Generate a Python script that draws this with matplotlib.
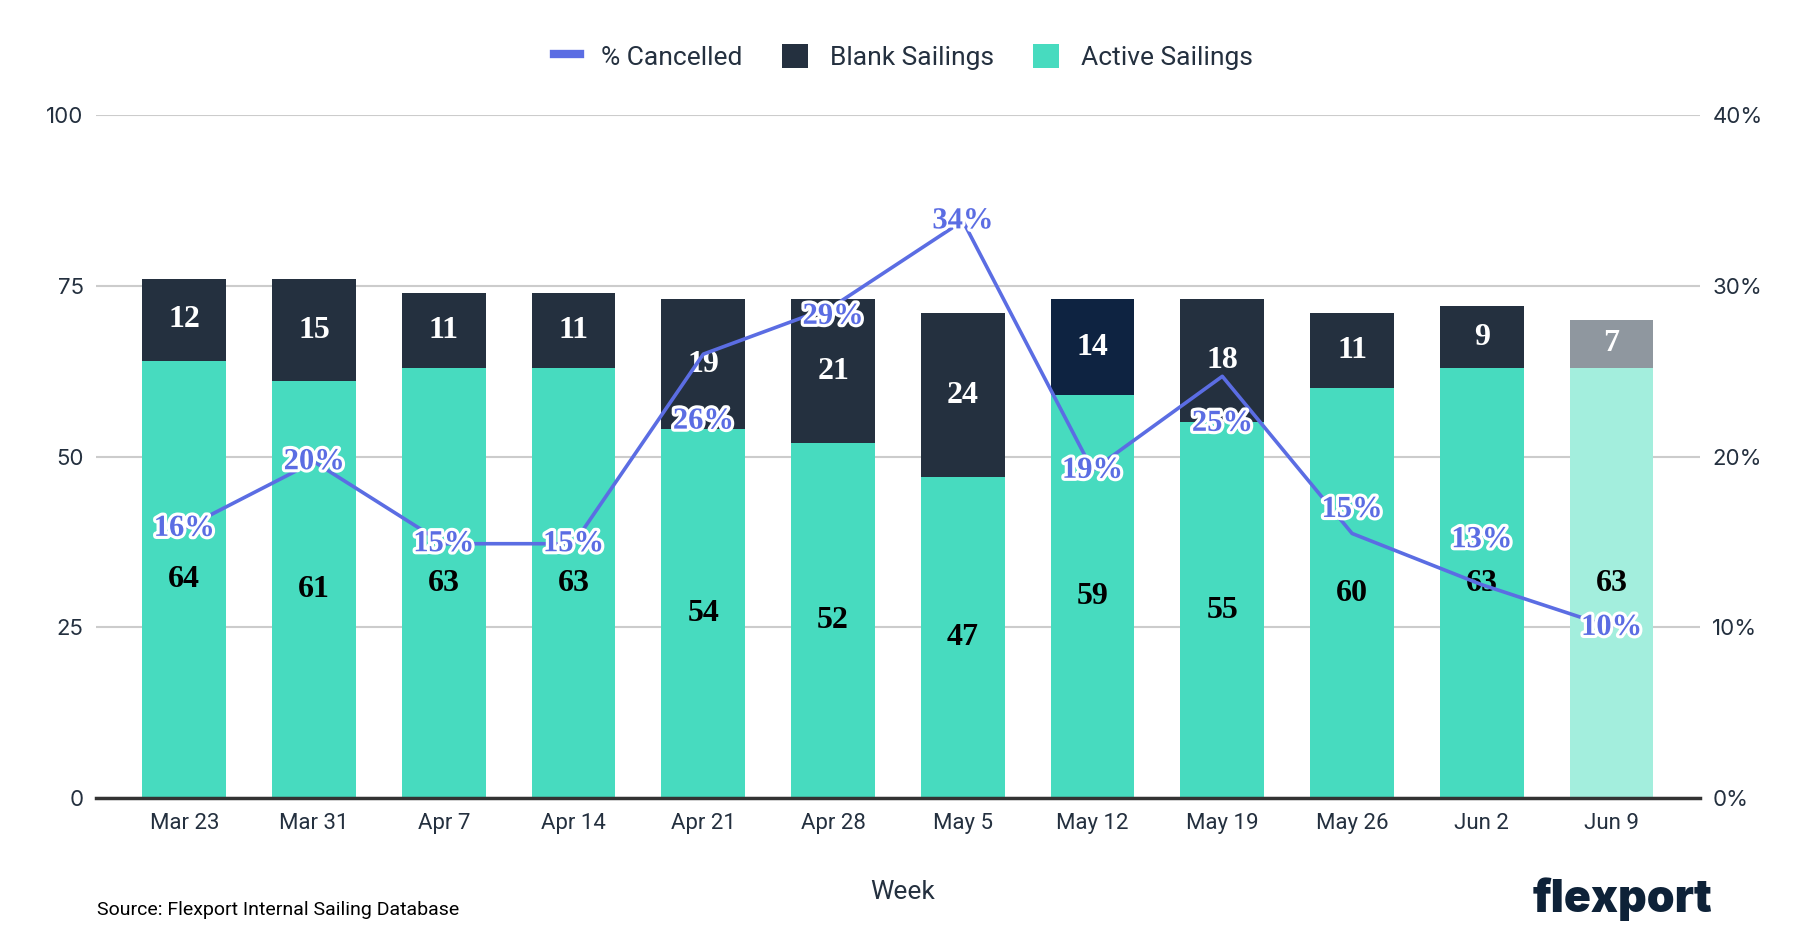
import matplotlib
matplotlib.use("Agg")
import matplotlib.pyplot as plt
from matplotlib.lines import Line2D
from matplotlib.patches import Patch
import matplotlib.patheffects as pe

# data
weeks = ["Mar 23", "Mar 31", "Apr 7", "Apr 14", "Apr 21", "Apr 28",
         "May 5", "May 12", "May 19", "May 26", "Jun 2", "Jun 9"]
active = [64, 61, 63, 63, 54, 52, 47, 59, 55, 60, 63, 63]
blank = [12, 15, 11, 11, 19, 21, 24, 14, 18, 11, 9, 7]
pct_cancelled = [15.8, 19.7, 14.9, 14.9, 26.0, 28.8, 33.8, 19.2, 24.7, 15.5, 12.5, 10.0]
pct_labels = ["16%", "20%", "15%", "15%", "26%", "29%", "34%", "19%", "25%", "15%", "13%", "10%"]

# styling
teal = "#47DBBF"
dark = "#24303F"
line_col = "#5B6DE3"
text_col = "#24303F"
active_colors = [teal] * 11 + ["#A3EEDD"]
blank_colors = [dark] * 7 + ["#0E2341"] + [dark] * 3 + ["#8F979F"]
# vertical offset (pixels) of each % label from its point
pct_dy = [0, 0, 0, 0, -67, -10, 0, 0, -47, 24, 45, 0]

fig = plt.figure(figsize=(18.06, 9.48), dpi=100)
ax = fig.add_axes([0.0532, 0.158, 0.888, 0.7207])
ax2 = ax.twinx()

x = list(range(len(weeks)))
w = 0.645
ax.bar(x, active, width=w, color=active_colors, zorder=2)
ax.bar(x, blank, width=w, bottom=active, color=blank_colors, zorder=2)

serif = ["Liberation Serif", "DejaVu Serif"]
for i in x:
    ax.text(i, active[i] / 2, str(active[i]), ha="center", va="center",
            fontsize=23, fontweight="bold", family=serif, color="black", zorder=3)
    ax.text(i, active[i] + blank[i] / 2, str(blank[i]), ha="center", va="center",
            fontsize=23, fontweight="bold", family=serif, color="white", zorder=3)

ax.set_xlim(-0.68, len(weeks) - 1 + 0.68)
ax.set_ylim(0, 100)
ax.set_yticks([0, 25, 50, 75, 100])
ax.grid(axis="y", color="#CCCCCC", linewidth=1.5, zorder=0)
ax.set_axisbelow(True)
for s in ["top", "right", "left"]:
    ax.spines[s].set_visible(False)
ax.spines["bottom"].set_color("#333333")
ax.spines["bottom"].set_linewidth(2.5)
ax.spines["bottom"].set_zorder(4)
ax.tick_params(axis="y", length=0, pad=9, labelsize=16, labelcolor=text_col)
ax.tick_params(axis="x", length=0, pad=11, labelsize=16, labelcolor=text_col)
ax.set_xticks(x)
ax.set_xticklabels(weeks, family="Roboto")
for t in ax.get_yticklabels():
    t.set_family("Inter")

ax2.plot(x, pct_cancelled, color=line_col, linewidth=2.6, zorder=5)
ax2.set_ylim(0, 40)
ax2.set_yticks([0, 10, 20, 30, 40])
ax2.set_yticklabels(["0%", "10%", "20%", "30%", "40%"], family="Inter")
ax2.tick_params(axis="y", length=0, pad=9, labelsize=16, labelcolor=text_col)
for s in ["top", "right", "left", "bottom"]:
    ax2.spines[s].set_visible(False)
for i in x:
    ax2.annotate(pct_labels[i], (i, pct_cancelled[i]), xytext=(0, pct_dy[i]),
                 textcoords="offset pixels", ha="center", va="center",
                 fontsize=22, fontweight="bold", family=serif, color=line_col,
                 path_effects=[pe.withStroke(linewidth=4.5, foreground="white")],
                 zorder=6)

handles = [Line2D([0], [0], color=line_col, linewidth=6),
           Patch(facecolor=dark), Patch(facecolor=teal)]
fig.legend(handles, ["% Cancelled", "Blank Sailings", "Active Sailings"],
           loc="center", bbox_to_anchor=(0.5, 0.94), ncol=3, frameon=False,
           prop={"family": "Roboto", "size": 19}, handlelength=1.0,
           handleheight=1.0, handletextpad=0.8, columnspacing=1.5,
           labelcolor=text_col)

fig.text(0.5, 0.059, "Week", ha="center", va="center", fontsize=19,
         family="Roboto", color=text_col)
fig.text(0.0537, 0.04, "Source: Flexport Internal Sailing Database", ha="left",
         va="center", fontsize=14, family="Roboto", color="black")
fig.text(0.948, 0.052, "flexport", ha="right", va="center", fontsize=32,
         family="Inter", fontweight="black", color="#0E2238")

fig.savefig("out.png", dpi=100)
